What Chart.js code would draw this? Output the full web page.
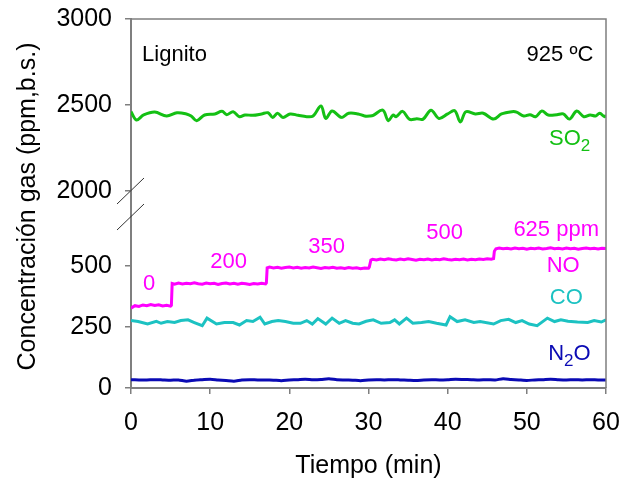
<!DOCTYPE html>
<html><head><meta charset="utf-8">
<script src="https://cdn.jsdelivr.net/npm/chart.js@4"></script>
<style>html,body{margin:0;padding:0;background:#fff}</style>
</head><body>
<div style="width:623px;height:486px"><canvas id="c" width="623" height="486"></canvas></div>
<script>
// ---- data ----
const soTime = [0,0.7,1.6,3.0,4.5,5.8,7.0,7.6,8.3,9.3,10.6,11.5,12.1,12.9,13.7,14.4,15.4,16.5,17.3,17.9,
  18.5,19.2,20.1,21.1,22.2,23.0,24.0,24.6,25.4,26.6,27.5,28.7,29.5,30.2,30.6,31.8,32.5,33.1,33.5,34.3,
  35.2,36.1,36.9,37.9,38.9,40.0,40.9,41.6,42.3,43.5,44.5,45.8,46.8,48.1,48.7,49.6,50.4,51.1,51.9,52.7,
  53.8,54.6,55.4,56.3,57.2,58.0,58.7,59.2,59.8,60];
const soValue = [2461,2413,2442,2459,2436,2455,2448,2436,2409,2442,2448,2463,2444,2461,2432,2442,2440,2448,2455,2428,
  2452,2428,2448,2440,2432,2436,2494,2422,2465,2428,2452,2448,2436,2436,2440,2470,2409,2442,2432,2463,
  2416,2420,2418,2470,2422,2448,2467,2401,2461,2448,2452,2418,2448,2461,2459,2436,2444,2432,2465,2442,
  2444,2448,2418,2465,2432,2442,2436,2452,2432,2440];

const noTime = [0,0.5,1,1.5,2,2.5,3,3.5,4,4.5,5,5.1,5.2,
  5.5,6,6.5,7,7.5,8,8.5,9,9.5,10,10.5,11,
  11.5,12,12.5,13,13.5,14,14.5,15,15.5,16,16.5,17,17.1,17.2,
  17.5,18,18.5,19,19.5,20,20.5,21,21.5,22,22.5,23,23.5,
  24,24.5,25,25.5,26,26.5,27,27.5,28,28.5,29,29.5,30,30.1,30.3,
  30.5,31,31.5,32,32.5,33,33.5,34,34.5,35,35.5,36,36.5,37,37.5,
  38,38.5,39,39.5,40,40.5,41,41.5,42,42.5,43,43.5,44,44.5,45,45.5,45.8,45.9,46.1,
  46.5,47,47.5,48,48.5,49,49.5,50,50.5,51,51.5,52,52.5,53,
  53.5,54,54.5,55,55.5,56,56.5,57,57.5,58,58.5,59,59.5,60];
const noValue = [327,337,334,340,337,342,338,341,336,339,335,338,428,
  425,430,426,429,427,431,427,425,430,427,429,424,
  428,430,426,429,425,429,427,424,428,426,429,426,430,492,
  495,491,494,490,493,495,491,494,490,493,491,495,492,
  489,493,491,494,490,492,489,493,490,492,488,491,490,495,524,
  527,524,528,525,529,526,524,528,525,529,526,523,527,525,528,
  524,527,525,529,526,524,527,525,528,524,527,525,528,526,529,527,530,560,570,
  573,570,572,569,573,570,572,568,572,570,573,569,571,574,
  570,572,569,573,570,572,568,571,573,570,572,569,572,571];

const coTime = [0,0.9,2.1,3.2,3.8,4.6,5.5,6.3,7.2,8.0,9.0,9.6,10.8,11.8,12.9,13.7,14.6,15.4,16.3,16.9,
  17.8,18.6,19.5,20.5,21.4,22.2,22.9,23.6,24.6,25.4,26.3,27.1,28.0,28.8,29.7,30.6,31.6,32.7,33.3,33.9,
  34.8,35.6,36.7,37.6,38.6,39.8,40.3,41.2,42.2,43.3,44.1,45.8,46.7,47.7,48.6,49.4,50.3,51.3,52.6,53.5,
  54.3,55.2,56.4,57.7,58.5,59.4,60];
const coValue = [276,272,262,273,265,272,268,276,279,268,255,286,262,268,268,258,276,272,290,262,
  272,276,272,265,265,276,262,284,262,286,265,276,265,262,273,279,265,268,279,262,
  286,265,268,272,265,258,292,272,279,268,272,262,276,281,268,276,262,255,286,272,
  279,273,270,268,276,270,279];

const n2oTime = [0,1,2,3,4,5,6,7,8,9,10,
  11,12,13,14,15,16,17,18,19,20,
  21,22,23,24,25,26,27,28,29,30,
  31,32,33,34,35,36,37,38,39,40,
  41,42,43,44,45,46,47,48,49,50,
  51,52,53,54,55,56,57,58,59,60];
const n2oValue = [34,33,33,34,33,32,33,28,32,34,36,
  33,31,28,33,34,33,33,32,30,33,
  34,36,34,35,38,34,33,32,30,33,
  34,33,34,33,32,31,33,34,33,34,
  36,35,34,33,34,33,38,35,33,31,
  33,34,36,34,33,34,33,34,33,33];

const xTicks = [0,10,20,30,40,50,60];
const yLowTicks = [0,250,500];
const yHighTicks = [2000,2500,3000];
const xTitle = 'Tiempo (min)';
const yTitle = 'Concentración gas (ppm,b.s.)';

// text annotations (anchored in data coordinates)
const GREEN = '#14c014', MAG = '#ff00ff', CYAN = '#1cc2c2', BLUE = '#0a0ab4';
const notes = [
  {parts:[['Lignito',0]], x:1.4, y:2791, axis:'yTop', color:'#000', align:'left'},
  {parts:[['925 ºC',0]], x:58.4, y:2791, axis:'yTop', color:'#000', align:'right'},
  {parts:[['SO',0],['2',1]], x:52.8, y:2305, axis:'yTop', color:GREEN, align:'left'},
  {parts:[['625 ppm',0]], x:48.3, y:645, axis:'y', color:MAG, align:'left'},
  {parts:[['500',0]], x:37.3, y:633, axis:'y', color:MAG, align:'left'},
  {parts:[['350',0]], x:22.4, y:576, axis:'y', color:MAG, align:'left'},
  {parts:[['200',0]], x:10.0, y:518, axis:'y', color:MAG, align:'left'},
  {parts:[['0',0]], x:1.5, y:424, axis:'y', color:MAG, align:'left'},
  {parts:[['NO',0]], x:52.5, y:498, axis:'y', color:MAG, align:'left'},
  {parts:[['CO',0]], x:52.9, y:367, axis:'y', color:CYAN, align:'left'},
  {parts:[['N',0],['2',1],['O',0]], x:52.7, y:141, axis:'y', color:BLUE, align:'left'}
];

// ---- chart ----
const FONT = "'Liberation Sans', Arial, sans-serif";
Chart.defaults.font.family = FONT;
const GRAY = '#7f7f7f';
function pts(t, v) { return t.map((x, i) => ({x: x, y: v[i]})); }
function fixTicks(list) { return s => { s.ticks = list.map(v => ({value: v})); }; }
function noPad(s) { s.paddingLeft = 0; s.paddingRight = 0; s.paddingTop = 0; s.paddingBottom = 0; }
const fitW = s => { s.width = 131; noPad(s); };
const plain = v => String(v);

const yBase = {
  type: 'linear', position: 'left', stack: 'v', afterFit: fitW,
  border: {color: GRAY, width: 2},
  grid: {drawOnChartArea: false, tickLength: 6, color: GRAY, lineWidth: 1.5},
  ticks: {font: {size: 25}, color: '#000', padding: 13, callback: plain}
};

const deco = {
  id: 'deco',
  afterDraw(chart) {
    const {ctx, chartArea: a, scales} = chart;
    ctx.save();
    ctx.strokeStyle = GRAY; ctx.lineWidth = 1.5;
    ctx.beginPath(); ctx.moveTo(a.left, a.top); ctx.lineTo(a.right, a.top); ctx.lineTo(a.right, a.bottom); ctx.stroke();
    ctx.strokeStyle = '#333'; ctx.lineWidth = 1;
    for (const yy of [scales.yTop.bottom, scales.y.top]) {
      ctx.beginPath(); ctx.moveTo(a.left - 14, yy + 13); ctx.lineTo(a.left + 13, yy - 13); ctx.stroke();
    }
    ctx.restore();
    ctx.save();
    ctx.translate(28, (a.top + a.bottom) / 2 + 3);
    ctx.rotate(-Math.PI / 2);
    ctx.font = '25px ' + FONT; ctx.textAlign = 'center'; ctx.textBaseline = 'middle'; ctx.fillStyle = '#000';
    ctx.fillText(yTitle, 0, 0);
    ctx.restore();
    ctx.save();
    ctx.textBaseline = 'middle';
    for (const n of notes) {
      const px = scales.x.getPixelForValue(n.x);
      const py = scales[n.axis].getPixelForValue(n.y);
      let w = 0;
      for (const [t, sub] of n.parts) { ctx.font = (sub ? '17px ' : '22px ') + FONT; w += ctx.measureText(t).width; }
      let cx = n.align === 'right' ? px - w : px;
      ctx.fillStyle = n.color; ctx.textAlign = 'left';
      for (const [t, sub] of n.parts) {
        ctx.font = (sub ? '17px ' : '22px ') + FONT;
        ctx.fillText(t, cx, sub ? py + 8 : py);
        cx += ctx.measureText(t).width;
      }
    }
    ctx.restore();
  }
};

new Chart(document.getElementById('c'), {
  type: 'line',
  data: {
    datasets: [
      {label: 'SO2', data: pts(soTime, soValue), yAxisID: 'yTop', borderColor: GREEN, borderWidth: 3, pointRadius: 0, tension: 0.35},
      {label: 'NO', data: pts(noTime, noValue), yAxisID: 'y', borderColor: MAG, borderWidth: 3, pointRadius: 0, tension: 0},
      {label: 'CO', data: pts(coTime, coValue), yAxisID: 'y', borderColor: CYAN, borderWidth: 3, pointRadius: 0, tension: 0},
      {label: 'N2O', data: pts(n2oTime, n2oValue), yAxisID: 'y', borderColor: BLUE, borderWidth: 3, pointRadius: 0, tension: 0.2}
    ]
  },
  options: {
    responsive: false, animation: false,
    layout: {padding: {top: 19, right: 17, left: 0, bottom: 0}},
    plugins: {legend: {display: false}, tooltip: {enabled: false}},
    scales: {
      y: Object.assign({}, yBase, {min: 0, max: 700, stackWeight: 171, afterBuildTicks: fixTicks(yLowTicks)}),
      yGap: {type: 'linear', position: 'left', stack: 'v', stackWeight: 26, min: 0, max: 1, afterFit: fitW,
             ticks: {display: false}, grid: {display: false}, border: {color: GRAY, width: 2}},
      yTop: Object.assign({}, yBase, {min: 2000, max: 3000, stackWeight: 172, afterBuildTicks: fixTicks(yHighTicks)}),
      x: {
        type: 'linear', position: 'bottom', min: 0, max: 60,
        afterBuildTicks: fixTicks(xTicks), afterFit: s => { s.height = 98; noPad(s); },
        border: {color: GRAY, width: 2},
        grid: {drawOnChartArea: false, tickLength: 6, color: GRAY, lineWidth: 1.5},
        ticks: {font: {size: 25}, color: '#000', padding: 14, maxRotation: 0, callback: plain},
        title: {display: true, text: xTitle, font: {size: 25}, color: '#000', padding: {top: 0, bottom: 5}}
      }
    }
  },
  plugins: [deco]
});
</script>
</body></html>
